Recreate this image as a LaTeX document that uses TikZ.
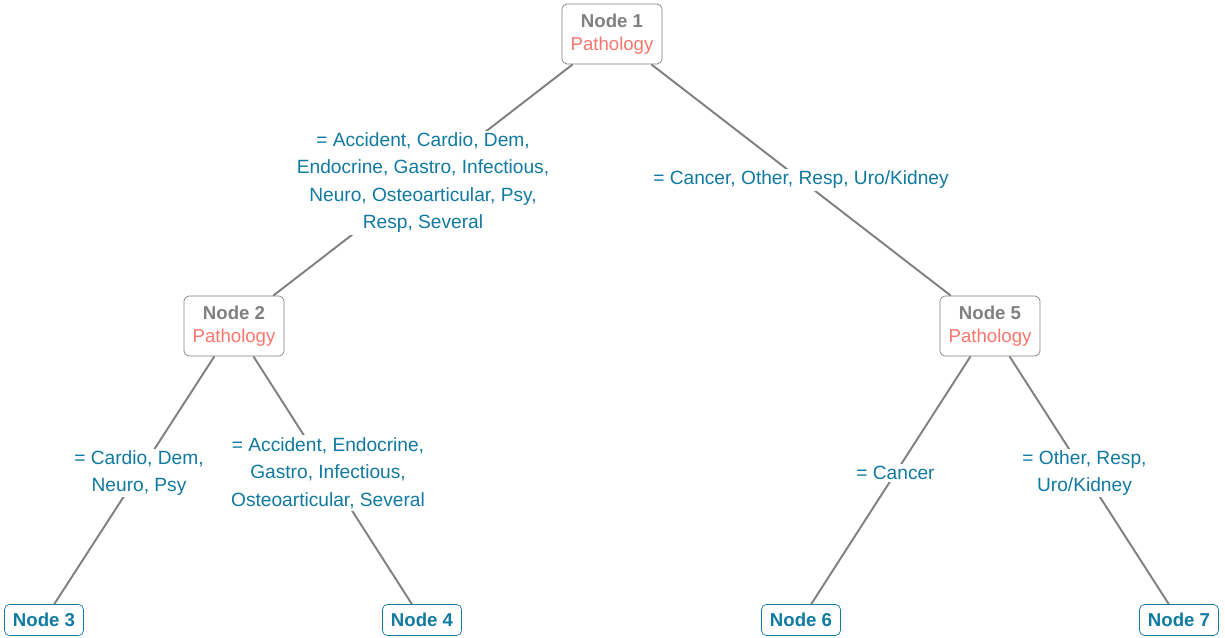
\documentclass[tikz,border=0pt]{standalone}
\usepackage{fontspec}
\setmainfont{Liberation Sans}
\usetikzlibrary{positioning}
\definecolor{nodegray}{RGB}{128,128,128}
\definecolor{pathred}{RGB}{248,118,109}
\definecolor{splitblue}{RGB}{16,122,160}

\begin{document}
\begin{tikzpicture}
\useasboundingbox (0,0) rectangle (24.5,-12.76);
\begin{scope}
\tikzstyle{inner}=[draw=nodegray,rectangle,rounded corners=1mm, minimum width=2cm, minimum height=1.2cm, align=center, font=\fontsize{10.6}{13}\selectfont, thin]
\tikzstyle{leaf}=[draw=splitblue,rectangle,rounded corners=1mm, minimum width=1.58cm, minimum height=0.62cm, text=splitblue, font=\fontsize{10.6}{13}\selectfont\bfseries, thin]
\tikzstyle{edge}=[draw=nodegray, line width=1.1pt]
\tikzstyle{split}=[fill=white, text=splitblue, align=center, inner sep=1pt, font=\fontsize{10.9}{15.7}\selectfont]
\node[inner] (n1) at (12.24,-0.68) {\textcolor{nodegray}{\bfseries Node 1}\\\textcolor{pathred}{Pathology}};
\node[inner] (n2) at (4.68,-6.52) {\textcolor{nodegray}{\bfseries Node 2}\\\textcolor{pathred}{Pathology}};
\node[inner] (n5) at (19.8,-6.52) {\textcolor{nodegray}{\bfseries Node 5}\\\textcolor{pathred}{Pathology}};
\node[leaf] (n3) at (0.88,-12.4) {Node 3};
\node[leaf] (n4) at (8.44,-12.4) {Node 4};
\node[leaf] (n6) at (16.02,-12.4) {Node 6};
\node[leaf] (n7) at (23.58,-12.4) {Node 7};
\draw[edge] (n1) -- (n2);
\draw[edge] (n1) -- (n5);
\draw[edge] (n2) -- (n3);
\draw[edge] (n2) -- (n4);
\draw[edge] (n5) -- (n6);
\draw[edge] (n5) -- (n7);
% split labels, halfway between node centres
\path (n1.center) -- (n2.center) node[midway, split, yshift=-1.5pt] {= Accident, Cardio, Dem,\\Endocrine, Gastro, Infectious,\\Neuro, Osteoarticular, Psy,\\Resp, Several};
\path (n1.center) -- (n5.center) node[midway, split] {= Cancer, Other, Resp, Uro/Kidney};
\path (n2.center) -- (n3.center) node[midway, split] {= Cardio, Dem,\\Neuro, Psy};
\path (n2.center) -- (n4.center) node[midway, split] {= Accident, Endocrine,\\Gastro, Infectious,\\Osteoarticular, Several};
\path (n5.center) -- (n6.center) node[midway, split] {= Cancer};
\path (n5.center) -- (n7.center) node[midway, split] {= Other, Resp,\\Uro/Kidney};
\end{scope}
\end{tikzpicture}
\end{document}
